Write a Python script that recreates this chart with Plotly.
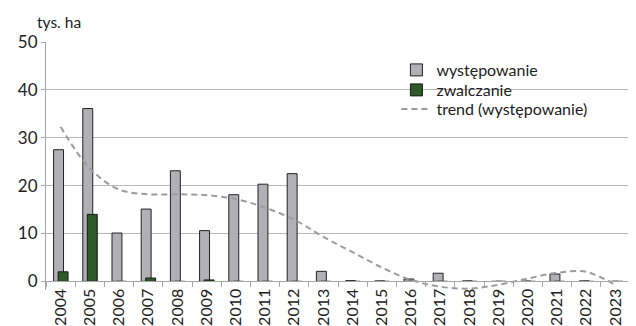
import plotly.graph_objects as go

years = [str(y) for y in range(2004, 2024)]
wystepowanie = [27.5, 36.1, 10.1, 15.1, 23.1, 10.6, 18.1, 20.3, 22.5, 2.1,
                0.15, 0.1, 0.5, 1.7, 0.1, 0.0, 0.05, 1.55, 0.1, 0.0]
zwalczanie = [2.0, 14.0, 0.0, 0.7, 0.0, 0.3, 0.0, 0.0, 0.0, 0.0,
              0.0, 0.0, 0.0, 0.0, 0.0, 0.0, 0.0, 0.0, 0.0, 0.0]
trend = [32.3, 23.6, 19.2, 18.2, 18.2, 18.0, 17.2, 15.4, 12.9, 9.3,
         6.1, 2.9, 0.3, -1.1, -1.5, -0.7, 0.6, 1.8, 2.0, -0.8]

FONT = "Lato"
Y_MIN = -1.8  # trend dips under the x axis, keep it visible

# page has an 8px body margin, so the figure is 8px smaller than the window
W, H = 628, 318
L, R, T, B = 38, 6, 34, 36
PH = H - T - B


def leg_y(page_y):
    # page pixel -> paper fraction
    return 1 - (page_y - 8 - T) / PH


fig = go.Figure()

fig.add_trace(go.Bar(
    x=years, y=wystepowanie, name="występowanie", legend="legend",
    width=0.34, offset=-0.24,
    marker=dict(color="#b1b1b5", line=dict(color="#222222", width=1)),
))
fig.add_trace(go.Bar(
    x=years, y=zwalczanie, name="zwalczanie", legend="legend2",
    width=0.34, offset=-0.085,
    marker=dict(color="#2d5a27", line=dict(color="#1a1a1a", width=1)),
))
fig.add_trace(go.Scatter(
    x=years, y=trend, name="trend (występowanie)", legend="legend3",
    mode="lines", line=dict(color="#9c9c9c", width=2, dash="6px,4px", shape="spline"),
))

leg = dict(x=0.6, xanchor="left", yanchor="middle",
           bgcolor="rgba(0,0,0,0)", font=dict(size=16), itemwidth=30)

fig.update_layout(
    width=W, height=H,
    margin=dict(l=L, r=R, t=T, b=B),
    paper_bgcolor="white", plot_bgcolor="white",
    barmode="overlay",
    font=dict(family=FONT, size=16, color="#222222"),
    showlegend=True,
    legend={**leg, "y": leg_y(70)},
    legend2={**leg, "y": leg_y(90)},
    legend3={**leg, "y": leg_y(109)},
    xaxis=dict(
        type="category", anchor="free", position=-Y_MIN / (50 - Y_MIN),
        showline=True, linecolor="#a6a6a6", linewidth=1,
        ticks="outside", tickson="boundaries", ticklen=5, tickcolor="#a6a6a6",
        tickangle=-90, tickfont=dict(size=16), showgrid=False,
        range=[-0.5, 19.5], automargin=False,
    ),
    yaxis=dict(
        range=[Y_MIN, 50], tickvals=[0, 10, 20, 30, 40, 50],
        showline=True, linecolor="#a6a6a6", linewidth=1,
        ticks="outside", ticklen=4, tickcolor="#a6a6a6",
        showgrid=True, gridcolor="#b8b8b8", gridwidth=1,
        zeroline=False, tickfont=dict(size=17), automargin=False,
    ),
    annotations=[dict(text="tys. ha", xref="paper", yref="paper",
                      x=-0.018, y=1.0, xanchor="left", yanchor="bottom",
                      yshift=9, showarrow=False, font=dict(size=15.5))],
)

fig.write_html("out.html")
